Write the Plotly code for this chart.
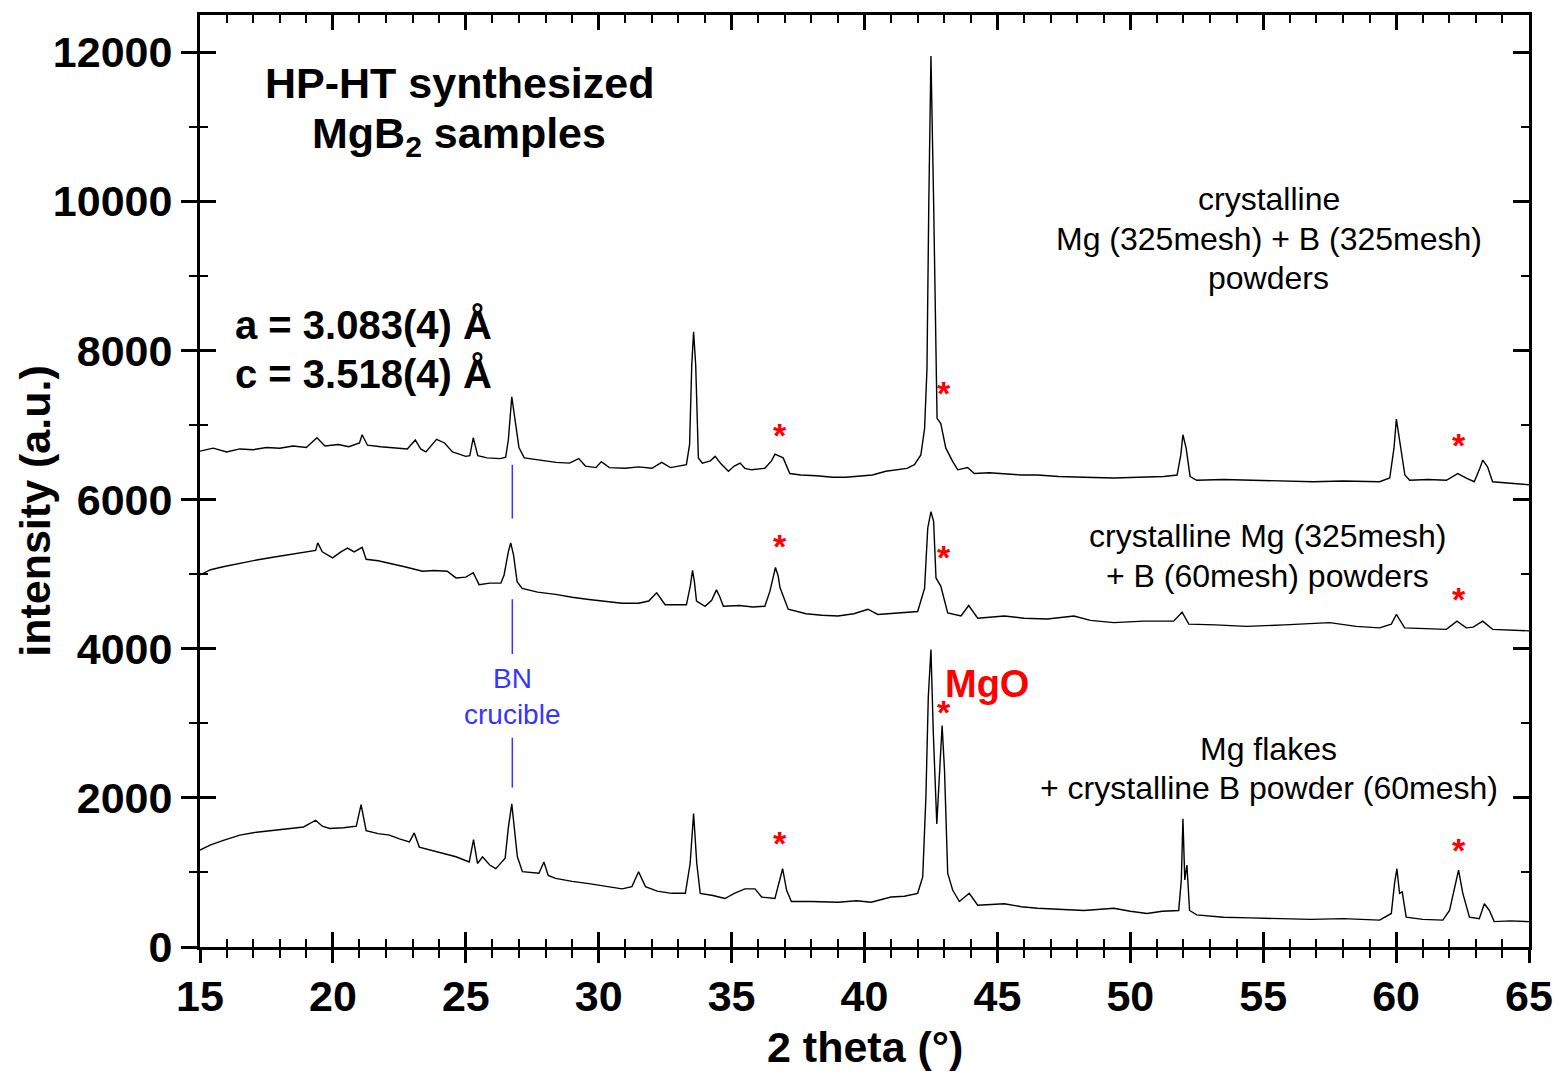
import plotly.graph_objects as go

# ---- data (2 theta in degrees, intensity in a.u.) ----
theta_top = [15.0, 15.5, 16.0, 16.5, 17.0, 17.5, 18.0, 18.5, 19.0, 19.4, 19.7, 20.2, 20.6, 21.0, 21.1, 21.3,
             21.8, 22.3, 22.8, 23.1, 23.3, 23.5, 23.9, 24.2, 24.5, 25.0, 25.15, 25.28, 25.45, 25.8, 26.3, 26.5,
             26.6, 26.73, 26.85, 27.0, 27.2, 27.6, 28.0, 28.4, 28.9, 29.25, 29.5, 29.9, 30.1, 30.4, 31.0, 31.5,
             32.0, 32.37, 32.7, 33.0, 33.3, 33.42, 33.5, 33.57, 33.65, 33.75, 33.9, 34.2, 34.38, 34.6, 34.88,
             35.1, 35.32, 35.5, 35.75, 36.25, 36.5, 36.63, 36.8, 36.94, 37.19, 37.6, 38.2, 38.8, 39.3, 39.8,
             40.3, 40.8, 41.2, 41.6, 41.88, 42.12, 42.26, 42.35, 42.42, 42.5, 42.6, 42.67, 42.73, 42.87, 43.06,
             43.32, 43.51, 43.88, 44.13, 44.7, 45.26, 45.9, 46.51, 47.3, 48.26, 49.38, 50.3, 51.26, 51.76,
             51.9, 51.98, 52.1, 52.25, 52.5, 53.5, 54.38, 55.5, 56.88, 58.0, 59.38, 59.76, 59.92, 60.01, 60.14,
             60.33, 60.51, 61.2, 61.89, 62.32, 62.64, 62.94, 63.15, 63.26, 63.44, 63.63, 64.3, 65.0]
int_top = [6650, 6690, 6640, 6680, 6670, 6700, 6690, 6720, 6700, 6830, 6720, 6740, 6710, 6760, 6870, 6730,
           6710, 6690, 6680, 6800, 6680, 6640, 6810, 6760, 6640, 6580, 6590, 6830, 6590, 6560, 6550, 6570,
           6800, 7380, 7050, 6700, 6560, 6540, 6520, 6500, 6490, 6550, 6450, 6430, 6510, 6430, 6420, 6440,
           6420, 6500, 6430, 6450, 6470, 6740, 7800, 8250, 7800, 6560, 6490, 6520, 6580, 6480, 6380,
           6450, 6490, 6420, 6400, 6420, 6520, 6610, 6580, 6560, 6350, 6330, 6320, 6300, 6300, 6320,
           6330, 6380, 6400, 6420, 6470, 6600, 6950, 7750, 10000, 11950, 10000, 8200, 7090, 7020, 6690,
           6510, 6400, 6430, 6350, 6360, 6350, 6330, 6330, 6310, 6300, 6290, 6300, 6310, 6330,
           6600, 6870, 6690, 6310, 6260, 6270, 6260, 6250, 6240, 6250, 6240, 6290, 6690, 7080, 6780,
           6330, 6260, 6270, 6260, 6350, 6290, 6240, 6420, 6530, 6440, 6240, 6220, 6200]

theta_mid = [15.0, 15.4, 15.87, 16.5, 17.13, 17.8, 18.38, 18.9, 19.35, 19.43, 19.6, 19.99, 20.3, 20.55, 20.8,
             21.1, 21.25, 21.7, 22.13, 22.7, 23.37, 23.8, 24.3, 24.63, 25.0, 25.28, 25.5, 25.9, 26.32, 26.44,
             26.6, 26.69, 26.8, 26.93, 27.12, 27.7, 28.38, 29.0, 29.63, 30.2, 30.88, 31.5, 31.88, 32.18, 32.5,
             33.0, 33.3, 33.45, 33.53, 33.6, 33.68, 34.0, 34.25, 34.43, 34.55, 34.69, 35.3, 35.8, 36.25, 36.44,
             36.55, 36.65, 36.75, 36.82, 37.13, 37.8, 38.4, 39.0, 39.6, 40.13, 40.5, 41.2, 42.0, 42.26, 42.38,
             42.5, 42.6, 42.69, 42.87, 43.13, 43.63, 43.92, 44.26, 45.26, 46.0, 46.88, 47.88, 48.5, 49.38,
             50.5, 51.63, 51.95, 52.2, 53.2, 54.38, 55.8, 57.5, 58.5, 59.38, 59.82, 60.01, 60.32, 61.1, 61.89,
             62.29, 62.64, 62.9, 63.26, 63.63, 64.3, 65.0]
int_mid = [4990, 5060, 5100, 5150, 5190, 5230, 5260, 5290, 5320, 5420, 5300, 5220, 5300, 5350, 5300,
           5360, 5200, 5180, 5150, 5100, 5040, 5050, 5040, 4950, 4960, 5020, 4860, 4880, 4880, 4990,
           5300, 5420, 5250, 4900, 4810, 4760, 4730, 4690, 4660, 4640, 4610, 4610, 4640, 4750, 4590,
           4590, 4590, 4850, 5050, 4900, 4640, 4570, 4650, 4790, 4700, 4570, 4580, 4560, 4570, 4770,
           4950, 5090, 4980, 4820, 4530, 4470, 4450, 4440, 4470, 4530, 4460, 4480, 4500, 4810, 5620,
           5840, 5710, 4950, 4840, 4480, 4440, 4580, 4410, 4440, 4410, 4400, 4440, 4380, 4350,
           4370, 4370, 4490, 4330, 4320, 4300, 4320, 4350, 4300, 4280, 4330, 4460, 4280, 4270, 4260,
           4370, 4280, 4290, 4370, 4260, 4250, 4240]

theta_bot = [15.0, 15.4, 15.88, 16.5, 17.13, 17.8, 18.38, 18.9, 19.35, 19.6, 19.88, 20.4, 20.88, 21.06, 21.25,
             21.7, 22.13, 22.5, 22.88, 23.06, 23.25, 23.9, 24.63, 25.13, 25.29, 25.44, 25.63, 25.9, 26.13,
             26.48, 26.6, 26.73, 26.85, 26.94, 27.13, 27.75, 27.94, 28.1, 28.38, 29.0, 29.63, 30.2, 30.88,
             31.25, 31.5, 31.76, 32.2, 32.75, 33.26, 33.44, 33.57, 33.69, 33.82, 34.3, 34.75, 35.1, 35.5,
             35.88, 36.13, 36.63, 36.82, 36.92, 37.07, 37.25, 38.0, 39.0, 39.7, 40.25, 41.0, 41.5, 42.0,
             42.19, 42.31, 42.4, 42.5, 42.59, 42.72, 42.82, 42.92, 43.01, 43.13, 43.32, 43.57, 43.94, 44.26,
             45.26, 45.9, 46.51, 47.3, 48.26, 49.38, 50.0, 50.63, 51.2, 51.82, 51.92, 51.98, 52.05, 52.13,
             52.23, 52.5, 53.5, 54.5, 55.63, 56.8, 58.0, 59.38, 59.82, 59.94, 60.03, 60.13, 60.23, 60.38,
             61.0, 61.76, 62.01, 62.2, 62.35, 62.51, 62.76, 63.13, 63.32, 63.51, 63.69, 64.3, 65.0]
int_bot = [1300, 1370, 1430, 1500, 1540, 1570, 1590, 1610, 1700, 1620, 1590, 1600, 1620, 1910, 1560,
           1520, 1500, 1450, 1410, 1530, 1340, 1280, 1210, 1140, 1440, 1120, 1210, 1100, 1050,
           1190, 1600, 1920, 1550, 1210, 1010, 990, 1140, 960, 920, 880, 850, 820, 780,
           810, 1010, 810, 750, 720, 720, 1120, 1790, 1120, 720, 690, 650, 720, 780,
           780, 670, 650, 940, 1050, 760, 610, 610, 600, 620, 600, 670, 680, 720,
           940, 2010, 3350, 3990, 2860, 1650, 2230, 2970, 2370, 990, 760, 610, 720, 560,
           580, 540, 520, 510, 490, 520, 480, 450, 480, 490, 900, 1720, 900, 1100,
           490, 430, 400, 390, 380, 370, 380, 360, 450, 850, 1050, 720, 740, 400,
           370, 360, 490, 810, 1030, 720, 400, 380, 580, 490, 340, 350, 340]

# BN crucible marker position and segments (y ranges)
bn_theta = 26.75
bn_segments = [(5746, 6468), (3929, 4664), (2138, 2806)]

# MgO markers (2 theta, y position of asterisk)
star_theta = [36.83, 36.83, 42.98, 42.98, 42.98, 36.83, 62.37, 62.37, 62.37]
star_y = [6909, 5412, 7470, 5265, 3194, 1430, 6775, 4704, 1336]

x_ticks = [15, 20, 25, 30, 35, 40, 45, 50, 55, 60, 65]
y_ticks = [0, 2000, 4000, 6000, 8000, 10000, 12000]

FONT = "Liberation Sans, Arial, sans-serif"
BLUE = "#3535ff"
RED = "#ff0000"

fig = go.Figure()
for xs, ys in [(theta_top, int_top), (theta_mid, int_mid), (theta_bot, int_bot)]:
    fig.add_trace(go.Scatter(x=xs, y=ys, mode="lines",
                             line=dict(color="black", width=1.4),
                             showlegend=False, hoverinfo="skip"))

# empty traces so that the overlay tick axes are drawn
fig.add_trace(go.Scatter(x=[None], y=[None], xaxis="x2", yaxis="y2", mode="lines",
                         showlegend=False, hoverinfo="skip"))
fig.add_trace(go.Scatter(x=[None], y=[None], xaxis="x3", yaxis="y3", mode="lines",
                         showlegend=False, hoverinfo="skip"))

for y0, y1 in bn_segments:
    fig.add_shape(type="line", x0=bn_theta, x1=bn_theta, y0=y0, y1=y1,
                  xref="x", yref="y", line=dict(color=BLUE, width=1.5))

ann = []
def text(x, y, s, size, bold=False, color="black", xanchor="center", yshift=0):
    ann.append(dict(x=x, y=y, xref="x", yref="y", text=s, showarrow=False,
                    xanchor=xanchor, yanchor="middle", yshift=yshift,
                    font=dict(family=FONT, size=size, color=color,
                              weight="bold" if bold else "normal")))

text(24.75, 11586, "HP-HT synthesized", 43, bold=True)
text(24.75, 10878, "MgB<sub>2</sub> samples", 43, bold=True)
text(16.24, 8339, "a = 3.083(4) Å", 40, bold=True, xanchor="left")
text(16.24, 7684, "c = 3.518(4) Å", 40, bold=True, xanchor="left")
text(55.21, 10036, "crystalline", 32)
text(55.21, 9502, "Mg (325mesh) + B (325mesh)", 32)
text(55.21, 8967, "powders", 32)
text(55.17, 5519, "crystalline Mg (325mesh)", 32)
text(55.17, 4971, "+ B (60mesh) powders", 32)
text(55.21, 2659, "Mg flakes", 32)
text(55.21, 2138, "+ crystalline B powder (60mesh)", 32)
text(bn_theta, 3595, "BN", 28, color=BLUE)
text(bn_theta, 3114, "crucible", 28, color=BLUE)
text(42.94, 3528, "MgO", 38, bold=True, color=RED, xanchor="left")
for sx, sy in zip(star_theta, star_y):
    text(sx, sy, "*", 34, bold=True, color=RED, yshift=-3)

# axis titles
ann.append(dict(x=0.5, y=0, xref="paper", yref="paper", yshift=-100, text="2 theta (°)",
                showarrow=False, xanchor="center", yanchor="middle",
                font=dict(family=FONT, size=43, color="black", weight="bold")))
ann.append(dict(x=0, y=0.467, xref="paper", yref="paper", xshift=-165, text="intensity (a.u.)",
                textangle=-90, showarrow=False, xanchor="center", yanchor="middle",
                font=dict(family=FONT, size=43, color="black", weight="bold")))

XR = [15, 65]
YR = [0, 12500]
tickfont = dict(family=FONT, size=43, color="black", weight="bold")

def minor(dtick, ticks):
    return dict(dtick=dtick, ticks=ticks, ticklen=8, tickwidth=2, tickcolor="black", showgrid=False)

fig.update_layout(
    width=1565, height=1074, autosize=False,
    margin=dict(l=200, r=32, t=12, b=127),
    paper_bgcolor="white", plot_bgcolor="white",
    showlegend=False,
    annotations=ann,
    xaxis=dict(range=XR, tickvals=x_ticks, ticks="outside", ticklen=13, tickwidth=2.5,
               tickcolor="black", showline=True, linecolor="black", linewidth=3, mirror=True,
               showgrid=False, zeroline=False, tickfont=tickfont, ticklabelstandoff=-4,
               minor=minor(1, "outside")),
    yaxis=dict(range=YR, tickvals=y_ticks, tickformat="d", ticks="outside", ticklen=16, tickwidth=2.5,
               tickcolor="black", showline=True, linecolor="black", linewidth=3, mirror=True,
               showgrid=False, zeroline=False, tickfont=tickfont, ticklabelstandoff=0,
               minor=minor(1000, "outside")),
    xaxis2=dict(range=XR, overlaying="x", anchor="y2", side="bottom", tickvals=x_ticks, ticks="inside",
                ticklen=15, tickwidth=2.5, tickcolor="black", showticklabels=False, showline=False,
                showgrid=False, zeroline=False, minor=minor(1, "inside")),
    yaxis2=dict(range=YR, overlaying="y", anchor="x2", side="left", tickvals=y_ticks, ticks="inside",
                ticklen=16, tickwidth=2.5, tickcolor="black", showticklabels=False, showline=False,
                showgrid=False, zeroline=False, minor=minor(1000, "inside")),
    xaxis3=dict(range=XR, overlaying="x", anchor="y3", side="top", tickvals=x_ticks, ticks="inside",
                ticklen=15, tickwidth=2.5, tickcolor="black", showticklabels=False, showline=False,
                showgrid=False, zeroline=False, minor=minor(1, "inside")),
    yaxis3=dict(range=YR, overlaying="y", anchor="x3", side="right", tickvals=y_ticks, ticks="inside",
                ticklen=16, tickwidth=2.5, tickcolor="black", showticklabels=False, showline=False,
                showgrid=False, zeroline=False, minor=minor(1000, "inside")),
)

fig.write_html("out.html")
